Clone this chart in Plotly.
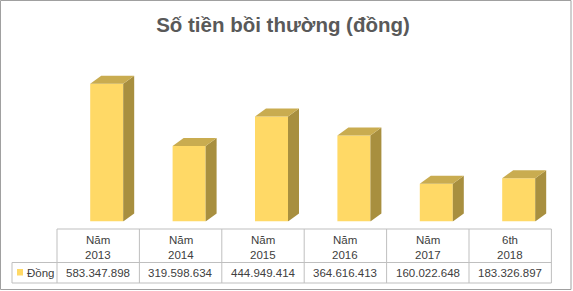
import plotly.graph_objects as go

# ---------------- data ----------------
categories_top = ["Năm", "Năm", "Năm", "Năm", "Năm", "6th"]
categories_bottom = ["2013", "2014", "2015", "2016", "2017", "2018"]
values = [583347898, 319598634, 444949414, 364616413, 160022648, 183326897]
value_labels = ["583.347.898", "319.598.634", "444.949.414", "364.616.413", "160.022.648", "183.326.897"]
series_name = "Đồng"
title_text = "Số tiền bồi thường (đồng)"

# ---------------- layout constants (pixels) ----------------
W, H = 573, 291
TABLE_L, TABLE_R = 57.0, 551.4          # category columns span
ROW_L = 12.0                            # left edge of legend cell
TABLE_TOP, TABLE_MID, TABLE_BOT = 229.0, 262.5, 283.0
BASE_PX = 221.5                         # y pixel of value 0
TOP_PX = 56.2                           # y pixel of top of y range
Y_MAX = 700e6

FRONT_COL = "#FFD966"
SIDE_COL = "#A88F3F"
TOP_COL = "#C9AC50"
GRID_COL = "#BFBFBF"
TEXT_COL = "#404040"

n = len(values)
idx = list(range(n))
col_w_px = (TABLE_R - TABLE_L) / n
unit_x_px = col_w_px                     # 1 category unit in px
unit_y_px = (BASE_PX - TOP_PX) / Y_MAX   # px per value unit

bar_w = 33 / unit_x_px
bar_off = -8 / unit_x_px
dx = 11 / unit_x_px
dy = 8 / unit_y_px


def px(x):
    return x / W


def py(y):
    return 1 - y / H


fig = go.Figure()
fig.add_trace(go.Bar(
    x=idx, y=values, width=bar_w, offset=bar_off,
    marker=dict(color=FRONT_COL, line=dict(width=0)),
    name=series_name, hoverinfo="skip", showlegend=False,
))

shapes = []
for i, v in zip(idx, values):
    l = i + bar_off
    r = l + bar_w
    # side face
    shapes.append(dict(type="path", xref="x", yref="y",
                       path=f"M {r},0 L {r},{v} L {r+dx},{v+dy} L {r+dx},{dy} Z",
                       fillcolor=SIDE_COL, line=dict(width=0)))
    # top face
    shapes.append(dict(type="path", xref="x", yref="y",
                       path=f"M {l},{v} L {r},{v} L {r+dx},{v+dy} L {l+dx},{v+dy} Z",
                       fillcolor=TOP_COL, line=dict(width=0)))

# table lines
def hline(x0, x1, y):
    shapes.append(dict(type="line", xref="paper", yref="paper",
                       x0=px(x0), x1=px(x1), y0=py(y), y1=py(y),
                       line=dict(color=GRID_COL, width=1)))


def vline(x, y0, y1):
    shapes.append(dict(type="line", xref="paper", yref="paper",
                       x0=px(x), x1=px(x), y0=py(y0), y1=py(y1),
                       line=dict(color=GRID_COL, width=1)))


hline(TABLE_L, TABLE_R, TABLE_TOP)
hline(ROW_L, TABLE_R, TABLE_MID)
hline(ROW_L, TABLE_R, TABLE_BOT)
for k in range(n + 1):
    vline(TABLE_L + k * col_w_px, TABLE_TOP, TABLE_BOT)
vline(ROW_L, TABLE_MID, TABLE_BOT)

# legend key square
shapes.append(dict(type="rect", xref="paper", yref="paper",
                   x0=px(17), x1=px(23), y0=py(275.5), y1=py(269),
                   fillcolor=FRONT_COL, line=dict(width=0)))

# outer border
shapes.append(dict(type="rect", xref="paper", yref="paper",
                   x0=px(0.5), x1=px(571), y0=py(289.5), y1=py(0.5),
                   fillcolor="rgba(0,0,0,0)", line=dict(color="#A0A0A0", width=1)))

annotations = []
font = dict(family="Liberation Sans, Arial, sans-serif", size=11.5, color=TEXT_COL)
for i in idx:
    cx = px(TABLE_L + (i + 0.5) * col_w_px)
    annotations.append(dict(xref="paper", yref="paper", x=cx, y=py(240),
                            text=categories_top[i], showarrow=False, font=font,
                            xanchor="center", yanchor="middle"))
    annotations.append(dict(xref="paper", yref="paper", x=cx, y=py(255),
                            text=categories_bottom[i], showarrow=False, font=font,
                            xanchor="center", yanchor="middle"))
    annotations.append(dict(xref="paper", yref="paper", x=cx, y=py(273),
                            text=value_labels[i], showarrow=False, font=font,
                            xanchor="center", yanchor="middle"))
annotations.append(dict(xref="paper", yref="paper", x=px(24.5), y=py(273),
                        text=series_name, showarrow=False, font=font,
                        xanchor="left", yanchor="middle"))

fig.update_layout(
    width=W, height=H,
    margin=dict(l=0, r=0, t=0, b=0),
    paper_bgcolor="white", plot_bgcolor="rgba(0,0,0,0)",
    title=dict(text=title_text, x=283 / W, xanchor="center",
               y=py(24.5), yanchor="middle", yref="container",
               font=dict(family="Liberation Sans, Arial, sans-serif", size=20.5,
                         color="#595959", weight="bold")),
    xaxis=dict(range=[-0.5, n - 0.5], domain=[px(TABLE_L), px(TABLE_R)],
               visible=False, fixedrange=True),
    yaxis=dict(range=[0, Y_MAX], domain=[py(BASE_PX), py(TOP_PX)],
               visible=False, fixedrange=True),
    shapes=shapes,
    annotations=annotations,
    showlegend=False,
)

fig.write_html("out.html")
